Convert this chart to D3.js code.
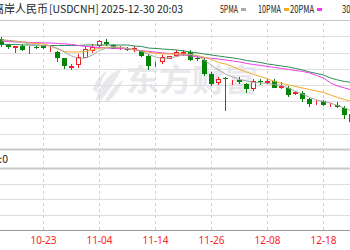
<!DOCTYPE html>
<html>
<head>
<meta charset="utf-8">
<script src="https://cdn.jsdelivr.net/npm/d3@7"></script>
<style>
    body { margin: 0; background: #fff; }
    svg { display: block; font-family: "Noto Sans CJK SC", "Noto Sans", sans-serif; }
</style>
</head>
<body>
<svg id="SVG_CONTAINER_Kline" width="350" height="250"></svg>
<script>
//** DATA *****************************************
const dates = ["10-13","10-14","10-15","10-16","10-17","10-20","10-21","10-22","10-23","10-24",
    "10-27","10-28","10-29","10-30","10-31","11-03","11-04","11-05","11-06","11-07",
    "11-10","11-11","11-12","11-13","11-14","11-17","11-18","11-19","11-20","11-21",
    "11-24","11-25","11-26","11-27","11-28","12-01","12-02","12-03","12-04","12-05",
    "12-08","12-09","12-10","12-11","12-12","12-15","12-16","12-17","12-18","12-19",
    "12-22","12-23","12-24"];

const tickDates = ["10-13","10-23","11-04","11-14","11-26","12-08","12-18"];

const openP = [null, null,
    7.1367, 7.1287, 7.1269, 7.1277, 7.1263, 7.1272, 7.1275, 7.1263, 7.1201, 7.1128,
    7.1017, 7.1054, 7.1146, 7.1226, 7.1293, 7.1330, 7.1297, 7.1253, 7.1257, 7.1242,
    7.1220, 7.1164, 7.1066, 7.1097, 7.1134, 7.1171, 7.1189, 7.1207, 7.1134, 7.1109,
    7.0931, 7.0833, 7.0882, 7.0845, 7.0863, 7.0814, 7.0759, 7.0845, 7.0833, 7.0845,
    7.0778, 7.0769, 7.0704, 7.0700, 7.0630, 7.0587, 7.0602, 7.0563, 7.0560, 7.0520,
    7.0446];
const highP = [null, null,
    7.1392, 7.1306, 7.1281, 7.1306, 7.1275, 7.1281, 7.1287, 7.1275, 7.1220, 7.1134,
    7.1054, 7.1183, 7.1281, 7.1306, 7.1355, 7.1367, 7.1306, 7.1281, 7.1269, 7.1281,
    7.1232, 7.1177, 7.1085, 7.1171, 7.1164, 7.1226, 7.1226, 7.1226, 7.1152, 7.1128,
    7.0962, 7.0906, 7.0894, 7.0863, 7.0894, 7.0827, 7.0870, 7.0870, 7.0870, 7.0870,
    7.0833, 7.0790, 7.0728, 7.0722, 7.0643, 7.0622, 7.0618, 7.0575, 7.0587, 7.0544,
    7.0458];
const lowP = [null, null,
    7.1269, 7.1244, 7.1195, 7.1220, 7.1183, 7.1244, 7.1244, 7.1207, 7.1085, 7.0999,
    7.0986, 7.1011, 7.1128, 7.1195, 7.1269, 7.1281, 7.1238, 7.1232, 7.1220, 7.1207,
    7.1146, 7.0992, 7.1023, 7.1054, 7.1121, 7.1146, 7.1158, 7.1091, 7.1097, 7.0913,
    7.0790, 7.0802, 7.0483, 7.0802, 7.0808, 7.0704, 7.0728, 7.0802, 7.0808, 7.0759,
    7.0747, 7.0655, 7.0685, 7.0593, 7.0526, 7.0553, 7.0544, 7.0536, 7.0520, 7.0385,
    7.0323];
const closeP = [null, null,
    7.1293, 7.1263, 7.1275, 7.1236, 7.1269, 7.1253, 7.1257, 7.1272, 7.1134, 7.1035,
    7.1029, 7.1146, 7.1244, 7.1263, 7.1336, 7.1300, 7.1248, 7.1260, 7.1232, 7.1252,
    7.1164, 7.1035, 7.1078, 7.1140, 7.1152, 7.1207, 7.1201, 7.1103, 7.1121, 7.0937,
    7.0814, 7.0876, 7.0870, 7.0857, 7.0833, 7.0747, 7.0845, 7.0833, 7.0845, 7.0771,
    7.0790, 7.0679, 7.0710, 7.0630, 7.0569, 7.0597, 7.0553, 7.0569, 7.0532, 7.0434,
    7.0348];

const ma5 = [null, null,
    7.1355, 7.1349, 7.1336, 7.1324, 7.1306, 7.1287, 7.1287, 7.1281, 7.1253, 7.1207,
    7.1158, 7.1128, 7.1134, 7.1170, 7.1226, 7.1256, 7.1269, 7.1263, 7.1250, 7.1238,
    7.1220, 7.1177, 7.1146, 7.1128, 7.1134, 7.1152, 7.1170, 7.1177, 7.1158, 7.1109,
    7.1042, 7.0986, 7.0937, 7.0900, 7.0870, 7.0851, 7.0833, 7.0827, 7.0821, 7.0808,
    7.0796, 7.0765, 7.0722, 7.0692, 7.0649, 7.0618, 7.0599, 7.0581, 7.0550, 7.0520,
    7.0483];
const ma10 = [null, null,
    7.1355, 7.1349, 7.1342, 7.1330, 7.1318, 7.1312, 7.1306, 7.1281, 7.1244, 7.1213,
    7.1207, 7.1207, 7.1213, 7.1232, 7.1253, 7.1263, 7.1269, 7.1263, 7.1250, 7.1232,
    7.1220, 7.1204, 7.1191, 7.1183, 7.1183, 7.1183, 7.1183, 7.1177, 7.1164, 7.1142,
    7.1115, 7.1078, 7.1060, 7.1029, 7.0992, 7.0962, 7.0931, 7.0906, 7.0876, 7.0845,
    7.0821, 7.0802, 7.0784, 7.0765, 7.0747, 7.0728, 7.0710, 7.0679, 7.0649, 7.0624,
    7.0599];
const ma20 = [null, null,
    7.1342, 7.1336, 7.1330, 7.1330, 7.1324, 7.1324, 7.1318, 7.1318, 7.1312, 7.1306,
    7.1300, 7.1287, 7.1275, 7.1269, 7.1263, 7.1256, 7.1253, 7.1250, 7.1244, 7.1232,
    7.1226, 7.1213, 7.1207, 7.1195, 7.1189, 7.1183, 7.1170, 7.1158, 7.1146, 7.1136,
    7.1130, 7.1121, 7.1109, 7.1097, 7.1085, 7.1066, 7.1054, 7.1042, 7.1029, 7.1017,
    7.1005, 7.0992, 7.0980, 7.0968, 7.0950, 7.0919, 7.0888, 7.0827, 7.0790, 7.0765,
    7.0741];
const ma30 = [null, null,
    7.1300, 7.1300, 7.1300, 7.1293, 7.1293, 7.1293, 7.1287, 7.1287, 7.1287, 7.1287,
    7.1287, 7.1287, 7.1293, 7.1293, 7.1293, 7.1293, 7.1293, 7.1293, 7.1293, 7.1281,
    7.1275, 7.1256, 7.1250, 7.1244, 7.1238, 7.1232, 7.1220, 7.1207, 7.1195, 7.1183,
    7.1170, 7.1158, 7.1146, 7.1134, 7.1121, 7.1103, 7.1091, 7.1078, 7.1060, 7.1048,
    7.1035, 7.1023, 7.1005, 7.0986, 7.0962, 7.0943, 7.0925, 7.0888, 7.0864, 7.0845,
    7.0833];

const maNames = ["5PMA", "10PMA", "20PMA", "30PMA"];
const maColours = ["#a8a8a8", "#f5a72a", "#f03cf0", "#2e8b57"];
const priceTicks = [7.02, 7.04, 7.06, 7.08, 7.10, 7.12, 7.14, 7.16];
const volTicks = [0, 1, 2, 3, 4];
const volValue = 0;

//** SETUP *****************************************
const width = 350;
const UP = "#f02020", DOWN = "#058405";
let svg = d3.select("#SVG_CONTAINER_Kline");

//** SCALES *****************************************
let xScale = d3.scalePoint()
    .domain(dates)
    .range([-13, 351]);

let yScale = d3.scaleLinear()
    .domain([7.02, 7.16])
    .range([134, 20]);

let volScale = d3.scaleLinear()
    .domain([0, 4])
    .range([230, 168]);

//** WATERMARK *****************************************
let mark = svg.append("g").attr("fill", "#e8e8ed");
mark.append("path").attr("d", "M96,100 C98,86 108,74 122,68 C117,79 109,90 101,101 Z");
mark.append("path").attr("d", "M105,101 C109,92 115,85 123,80 C120,89 114,96 109,101 Z");
mark.append("path").attr("d", "M93,90 C95,81 100,75 107,71 C103,78 99,85 97,93 Z");
mark.append("text")
    .attr("x", 126)
    .attr("y", 91)
    .attr("font-size", 31)
    .attr("font-weight", "bold")
    .attr("textLength", 132)
    .attr("lengthAdjust", "spacingAndGlyphs")
    .text("东方财富");

//** GRID *****************************************
svg.append("g")
    .selectAll("line")
    .data(priceTicks)
    .enter()
    .append("line")
    .attr("x1", 0).attr("x2", width)
    .attr("y1", d => Math.round(yScale(d)) + 0.5)
    .attr("y2", d => Math.round(yScale(d)) + 0.5)
    .attr("stroke", d => d === 7.16 ? "#c4c4c4" : "#dedede");

svg.append("g")
    .selectAll("line")
    .data(volTicks)
    .enter()
    .append("line")
    .attr("x1", 0).attr("x2", width)
    .attr("y1", d => Math.round(volScale(d)) + 0.5)
    .attr("y2", d => Math.round(volScale(d)) + 0.5)
    .attr("stroke", d => d === 0 ? "#9a9a9a" : (d === 4 ? "#c8c8c8" : "#dedede"))
    .attr("stroke-width", d => d === 4 ? 2 : 1);

// strip between the two panels
svg.append("line")
    .attr("x1", 0).attr("x2", width)
    .attr("y1", 149.5).attr("y2", 149.5)
    .attr("stroke", "#c8c8c8")
    .attr("stroke-width", 2);

svg.append("text")
    .attr("x", 8)
    .attr("y", 163)
    .attr("text-anchor", "end")
    .attr("font-size", 10.5)
    .attr("fill", "#222")
    .text("成交量:" + volValue);

// vertical dashed grid + date labels
let xAxis = d3.axisBottom(xScale)
    .tickValues(tickDates)
    .tickSize(-(230 - 20))
    .tickPadding(7);

let gx = svg.append("g")
    .attr("transform", "translate(0,230)")
    .call(xAxis);
gx.select(".domain").remove();
gx.selectAll(".tick line")
    .attr("stroke", "#d2d2d2")
    .attr("stroke-dasharray", "3,3");
gx.selectAll(".tick text")
    .attr("fill", "#f22")
    .attr("font-family", "Noto Sans")
    .attr("font-size", 10);

//** CANDLES *****************************************
let rows = dates.map((d, i) => ({date: d, o: openP[i], h: highP[i], l: lowP[i], c: closeP[i]}))
    .filter(r => r.o !== null);

let candles = svg.append("g")
    .attr("shape-rendering", "crispEdges")
    .selectAll("g")
    .data(rows)
    .enter()
    .append("g");

candles.append("line")
    .attr("x1", d => xScale(d.date) + 0.5)
    .attr("x2", d => xScale(d.date) + 0.5)
    .attr("y1", d => Math.round(yScale(d.h)))
    .attr("y2", d => Math.round(yScale(d.l)))
    .attr("stroke", d => d.c >= d.o ? UP : DOWN);

candles.append("rect")
    .attr("x", d => d.c >= d.o ? xScale(d.date) - 1.5 : xScale(d.date) - 2)
    .attr("width", d => d.c >= d.o ? 4 : 5)
    .attr("y", d => {
        let top = Math.round(yScale(Math.max(d.o, d.c)));
        return d.c >= d.o ? top + 0.5 : top;
    })
    .attr("height", d => {
        let h = Math.round(yScale(Math.min(d.o, d.c))) - Math.round(yScale(Math.max(d.o, d.c)));
        return d.c >= d.o ? Math.max(h, 0) : Math.max(h, 1);
    })
    .attr("fill", d => d.c >= d.o ? "#fff" : DOWN)
    .attr("stroke", d => d.c >= d.o ? UP : "none");

//** MOVING AVERAGES *****************************************
let maSeries = [ma5, ma10, ma20, ma30];
let line = d3.line()
    .defined(d => d.v !== null)
    .x(d => xScale(d.date) + 0.5)
    .y(d => yScale(d.v));

for (let i = maSeries.length - 1; i >= 0; i--) {
    svg.append("path")
        .datum(dates.map((d, j) => ({date: d, v: maSeries[i][j]})))
        .attr("fill", "none")
        .attr("stroke", maColours[i])
        .attr("stroke-width", 1)
        .attr("d", line);
}

//** TITLE + LEGEND *****************************************
svg.append("text")
    .attr("x", -7).attr("y", 13)
    .attr("font-size", 11)
    .attr("fill", "#222")
    .attr("textLength", 55)
    .attr("lengthAdjust", "spacingAndGlyphs")
    .text("离岸人民币");

svg.append("text")
    .attr("x", 49).attr("y", 13)
    .attr("font-size", 10.5)
    .attr("fill", "#222")
    .attr("textLength", 134)
    .attr("lengthAdjust", "spacingAndGlyphs")
    .text("[USDCNH] 2025-12-30 20:03");

let legendX = [220, 258, 290, 342];
let legendW = [18, 23, 24, 24];
for (let i = 0; i < maNames.length; i++) {
    svg.append("text")
        .attr("x", legendX[i]).attr("y", 12.5)
        .attr("font-size", 10)
        .attr("fill", "#222")
        .attr("textLength", legendW[i])
        .attr("lengthAdjust", "spacingAndGlyphs")
        .text(maNames[i]);
    svg.append("rect")
        .attr("x", legendX[i] + legendW[i] + 3)
        .attr("y", 8)
        .attr("width", 5)
        .attr("height", 3)
        .attr("fill", maColours[i]);
}
</script>
</body>
</html>
